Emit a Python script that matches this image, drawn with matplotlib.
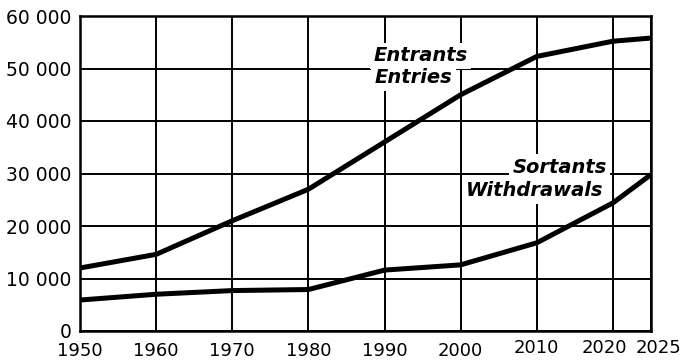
"""Entrants / sortants, 1950-2025: two thick curves on a square grid."""

import matplotlib

matplotlib.use("Agg")
import matplotlib.pyplot as plt
from matplotlib.ticker import FuncFormatter
from matplotlib.transforms import ScaledTranslation

YEARS = [1950, 1960, 1970, 1980, 1990, 2000, 2010, 2020, 2025]
ENTRANTS = [12000, 14600, 21000, 27000, 36000, 45000, 52300, 55200, 55800]
SORTANTS = [5900, 7000, 7700, 7900, 11600, 12600, 16800, 24400, 29800]

X_TICKS = [1950, 1960, 1970, 1980, 1990, 2000, 2010, 2020, 2025]
Y_TICKS = [0, 10000, 20000, 30000, 40000, 50000, 60000]

INK = "black"


def thousands(v, _pos):
    return f"{int(v):,}".replace(",", " ")


def main() -> None:
    plt.rcParams["font.family"] = "DejaVu Sans"
    fig = plt.figure(figsize=(6.89, 3.6), dpi=100, facecolor="white")
    ax = fig.add_axes([80 / 689, 29 / 360, 571 / 689, 315 / 360])

    ax.plot(YEARS, ENTRANTS, color=INK, lw=3.6, solid_capstyle="butt",
            solid_joinstyle="round", zorder=3)
    ax.plot(YEARS, SORTANTS, color=INK, lw=3.6, solid_capstyle="butt",
            solid_joinstyle="round", zorder=3)

    ax.set_xlim(1950, 2025)
    ax.set_ylim(0, 60000)
    ax.set_xticks(X_TICKS)
    ax.set_yticks(Y_TICKS)
    ax.yaxis.set_major_formatter(FuncFormatter(thousands))
    ax.tick_params(axis="both", length=0, colors=INK)
    ax.tick_params(axis="x", pad=8, labelsize=13)
    ax.tick_params(axis="y", pad=6, labelsize=13.5)
    ax.grid(True, color=INK, lw=1.4)
    ax.set_axisbelow(True)
    for spine in ax.spines.values():
        spine.set_color(INK)
        spine.set_linewidth(1.8)

    # the last three year labels sit a bit higher; 2020 and 2025 are
    # nudged apart so they don't collide
    nudge = {2010: (0, 3), 2020: (-9, 3), 2025: (7, 3)}
    for year, lab in zip(X_TICKS, ax.get_xticklabels()):
        dx, dy = nudge.get(year, (0, 0))
        if dx or dy:
            lab.set_transform(lab.get_transform()
                              + ScaledTranslation(dx / 100, dy / 100,
                                                  fig.dpi_scale_trans))

    # curve names, each line on its own white patch so the grid breaks
    label = dict(fontsize=14, fontweight="bold", fontstyle="italic",
                 color=INK, va="baseline", zorder=2.5,
                 bbox=dict(facecolor="white", edgecolor="none", pad=2.5))
    ax.text(1988.5, 51400, "Entrants", ha="left", **label)
    ax.text(1988.7, 47200, "Entries", ha="left", **label)
    ax.text(2019.2, 30100, "Sortants", ha="right", **label)
    ax.text(2018.7, 25700, "Withdrawals", ha="right", **label)

    fig.savefig("out.png", dpi=100, facecolor="white")
    plt.close(fig)


if __name__ == "__main__":
    main()
